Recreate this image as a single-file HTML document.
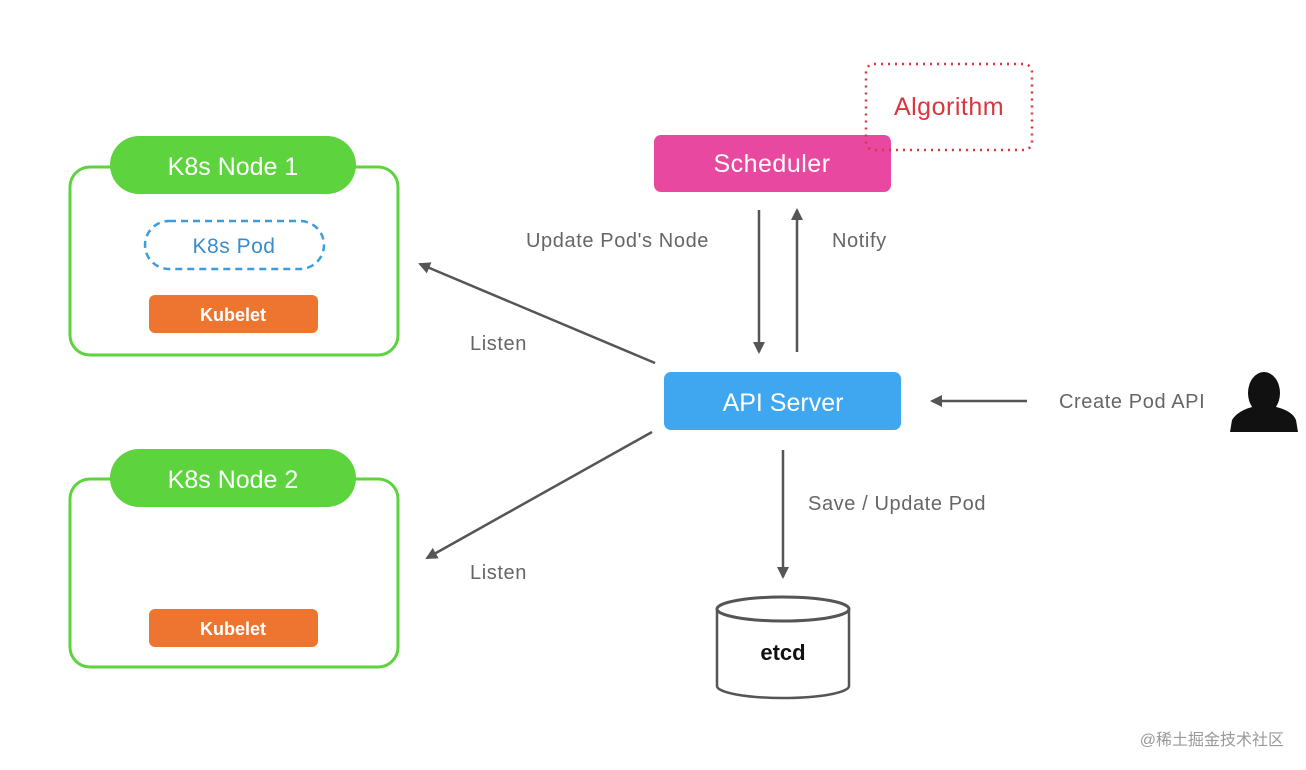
<!DOCTYPE html>
<html><head><style>body{margin:0;background:#fff}svg{display:block}text{font-family:"Liberation Sans",sans-serif}</style></head><body>
<svg width="1306" height="770" viewBox="0 0 1306 770" xmlns="http://www.w3.org/2000/svg">
<defs><marker id="a" markerWidth="12" markerHeight="12" refX="10" refY="6" orient="auto" markerUnits="userSpaceOnUse"><path d="M0,0 L12,6 L0,12 z" fill="#555"/></marker></defs>
<rect width="1306" height="770" fill="#fff"/>
<!-- Node 1 -->
<rect x="70" y="167" width="328" height="188" rx="20" fill="none" stroke="#5dd43d" stroke-width="3"/>
<rect x="110" y="136" width="246" height="58" rx="29" fill="#5dd43d"/>
<text x="233" y="175" font-size="25" fill="#fff" text-anchor="middle">K8s Node 1</text>
<rect x="145" y="221" width="179" height="48" rx="24" fill="none" stroke="#3a9de0" stroke-width="2.5" stroke-dasharray="7,5"/>
<text x="234" y="253" font-size="21" fill="#3a8ccc" text-anchor="middle" letter-spacing="0.5">K8s Pod</text>
<rect x="149" y="295" width="169" height="38" rx="6" fill="#ee7530"/>
<text x="233" y="321" font-size="18" font-weight="bold" fill="#fff" text-anchor="middle">Kubelet</text>
<!-- Node 2 -->
<rect x="70" y="479" width="328" height="188" rx="20" fill="none" stroke="#5dd43d" stroke-width="3"/>
<rect x="110" y="449" width="246" height="58" rx="29" fill="#5dd43d"/>
<text x="233" y="488" font-size="25" fill="#fff" text-anchor="middle">K8s Node 2</text>
<rect x="149" y="609" width="169" height="38" rx="6" fill="#ee7530"/>
<text x="233" y="635" font-size="18" font-weight="bold" fill="#fff" text-anchor="middle">Kubelet</text>
<!-- Scheduler -->
<rect x="654" y="135" width="237" height="57" rx="7" fill="#e8489f"/>
<text x="772" y="172" font-size="25" fill="#fff" text-anchor="middle" letter-spacing="0.5">Scheduler</text>
<rect x="866" y="64" width="166" height="86" rx="8" fill="none" stroke="#d9363e" stroke-width="2.5" stroke-dasharray="2,5"/>
<text x="949" y="115" font-size="25" fill="#d9363e" text-anchor="middle" letter-spacing="0.5">Algorithm</text>
<!-- API -->
<rect x="664" y="372" width="237" height="58" rx="7" fill="#3ea7f0"/>
<text x="783" y="411" font-size="25" fill="#fff" text-anchor="middle">API Server</text>
<!-- etcd -->
<path d="M717,609 L717,686 A66,12 0 0 0 849,686 L849,609" fill="#fff" stroke="#555" stroke-width="2.5"/>
<ellipse cx="783" cy="609" rx="66" ry="12" fill="#fff" stroke="#555" stroke-width="3"/>
<text x="783" y="660" font-size="22" font-weight="bold" fill="#111" text-anchor="middle">etcd</text>
<!-- arrows -->
<g stroke="#555" stroke-width="2.5" fill="none">
<line x1="759" y1="210" x2="759" y2="352" marker-end="url(#a)"/>
<line x1="797" y1="352" x2="797" y2="210" marker-end="url(#a)"/>
<line x1="655" y1="363" x2="420" y2="264" marker-end="url(#a)"/>
<line x1="652" y1="432" x2="427" y2="558" marker-end="url(#a)"/>
<line x1="1027" y1="401" x2="932" y2="401" marker-end="url(#a)"/>
<line x1="783" y1="450" x2="783" y2="577" marker-end="url(#a)"/>
</g>
<g font-size="20" fill="#666">
<text x="526" y="247" letter-spacing="0.6">Update Pod's Node</text>
<text x="832" y="247" letter-spacing="0.6">Notify</text>
<text x="470" y="350" letter-spacing="0.6">Listen</text>
<text x="470" y="579" letter-spacing="0.6">Listen</text>
<text x="808" y="510" letter-spacing="0.6">Save / Update Pod</text>
<text x="1059" y="408" letter-spacing="0.6">Create Pod API</text>
</g>
<!-- person -->
<g fill="#111">
<ellipse cx="1264" cy="393" rx="16" ry="21"/>
<path d="M1230,432 L1232,420 Q1238,410 1256,406 L1272,406 Q1292,410 1296,420 L1298,432 Z"/>
</g>
<text x="1284" y="745" font-size="16" fill="#999" text-anchor="end" style='font-family:"Liberation Sans","Noto Sans CJK SC",sans-serif'>@稀土掘金技术社区</text>
</svg>
</body></html>
